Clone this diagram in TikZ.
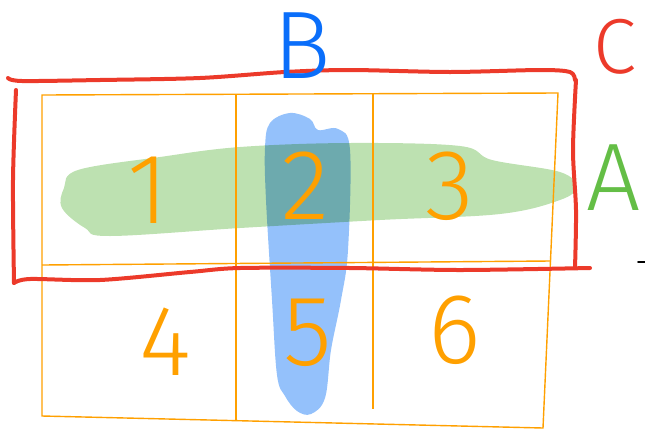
\documentclass[tikz,border=0pt]{standalone}
\usepackage{fontspec}
\newfontfamily\hand{Fira Sans Light}
\definecolor{gridor}{RGB}{255,160,0}
\definecolor{redpen}{RGB}{236,58,42}
\definecolor{greenhl}{RGB}{189,225,177}
\definecolor{bluehl}{RGB}{148,193,251}
\definecolor{bluepen}{RGB}{10,110,250}
\definecolor{greenpen}{RGB}{100,190,70}
\tikzset{
  gridline/.style={draw=gridor, line width=1.4pt},
  redline/.style={draw=redpen, line width=4pt, line cap=round, line join=round},
  digit/.style={text=gridor, font=\hand\fontsize{100}{100}\selectfont, inner sep=0pt},
  letter/.style={font=\hand\fontsize{96}{96}\selectfont, inner sep=0pt}
}
\begin{document}
\begin{tikzpicture}[x=1pt,y=-1pt]
\useasboundingbox (0,0) rectangle (645,429);
\clip (0,0) rectangle (645,429);
% green highlight
\fill[greenhl] plot[smooth cycle, tension=0.6] coordinates {
  (78,170) (160,157) (240,147) (350,143) (460,146) (492,160) (560,172) (576,187)
  (560,200) (500,214) (380,220) (240,228) (110,236) (85,228) (62,208) (64,188)};
% blue highlight (multiply)
\fill[bluehl, blend mode=multiply] plot[smooth cycle, tension=0.6] coordinates {
  (270,123) (290,113) (310,119) (318,130) (338,129) (350,150) (348,250) (341,300)
  (331,350) (325,398) (311,414) (297,411) (285,396) (277,375) (272,300) (266,200) (265,148)};
% orange grid
\coordinate (g11) at (42,95);
\coordinate (g14) at (558,93);
\coordinate (gm1) at (42,265);
\coordinate (gm4) at (551,261);
\coordinate (gb1) at (42,416);
\coordinate (gb4) at (543,428);
\draw[gridline] (g11) -- (g14) -- (gb4) -- (gb1) -- cycle;
\draw[gridline] (gm1) -- (gm4);
\draw[gridline] (236,95) -- (236,421);
\draw[gridline] (373,94) -- (373,409);
% red rectangle
\draw[redline] plot[smooth, tension=0.5] coordinates {
  (8,78) (22,81) (100,80) (200,78) (285,72) (350,70) (450,72) (540,70) (570,72) (575,80)};
\draw[redline] plot[smooth, tension=0.5] coordinates {(16,90) (13,180) (14,283)};
\draw[redline] plot[smooth, tension=0.5] coordinates {(576,80) (573,150) (576,210) (575,268)};
\draw[redline] plot[smooth, tension=0.5] coordinates {
  (14,283) (30,279) (100,280) (190,272) (240,268) (350,268) (460,270) (590,268)};
% digits
\node[digit] (n1) at (148,190) {1};
\node[digit] (n2) at (305,186) {2};
\node[digit] (n3) at (450,186) {3};
\node[digit] (n4) at (165,342) {4};
\node[digit] (n5) at (308,333) {5};
\node[digit] (n6) at (455,330) {6};
% letters
\node[letter, text=bluepen] (lb) at (302,46) {B};
\node[letter, text=greenpen] (la) at (614,178) {A};
\node[text=redpen, font=\hand\fontsize{78}{78}\selectfont, inner sep=0pt] (lc) at (615,47) {C};
% small dash at right edge
\draw[line width=2pt, line cap=round] (638,262) -- (645,262);
\end{tikzpicture}
\end{document}
